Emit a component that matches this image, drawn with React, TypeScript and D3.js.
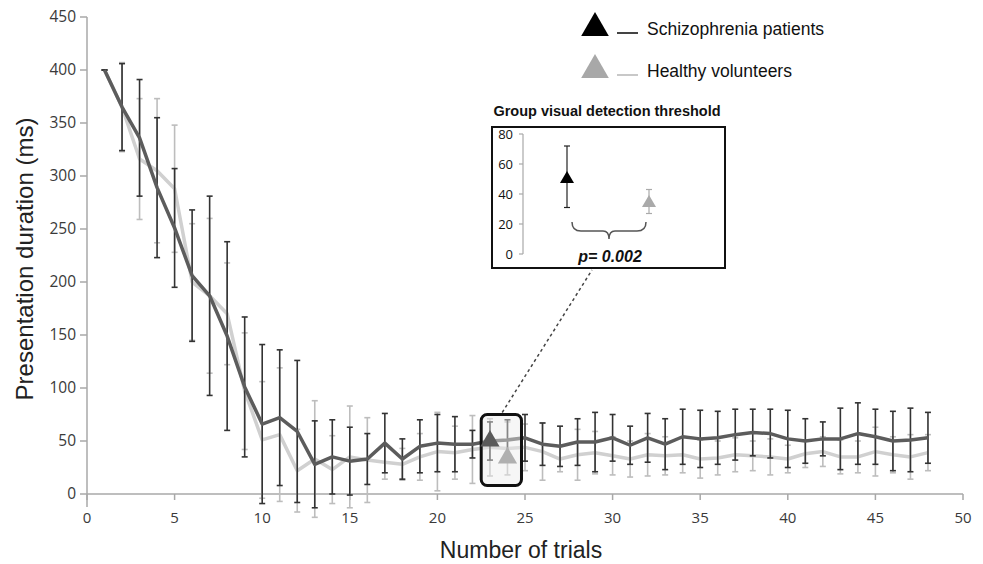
import * as d3 from "d3";

// trial numbers on the x axis
const trials = [
  1, 2, 3, 4, 5, 6, 7, 8, 9, 10, 11, 12, 13, 14, 15, 16, 17, 18, 19, 20, 21, 22, 23, 24,
  25, 26, 27, 28, 29, 30, 31, 32, 33, 34, 35, 36, 37, 38, 39, 40, 41, 42, 43, 44, 45, 46, 47, 48,
];

// schizophrenia patients: mean presentation duration and error (ms)
const patientMean = [
  400, 365, 336, 289, 251, 206, 187, 149, 101, 66, 72, 59, 28, 35, 31, 33, 48, 33, 45, 48, 47, 47, 50, 51,
  53, 47, 45, 49, 49, 53, 46, 53, 47, 54, 52, 53, 56, 58, 57, 52, 50, 52, 52, 57, 54, 50, 51, 53,
];
const patientErr = [
  0, 41, 55, 66, 56, 62, 94, 89, 66, 75, 64, 67, 41, 35, 32, 24, 28, 19, 25, 27, 26, 13, 18, 19,
  22, 20, 19, 22, 28, 22, 18, 23, 24, 26, 27, 25, 24, 22, 23, 27, 21, 16, 29, 29, 26, 28, 30, 24,
];

// healthy volunteers
const healthyMean = [
  400, 365, 316, 305, 288, 200, 187, 170, 97, 51, 56, 22, 33, 23, 35, 32, 30, 28, 35, 40, 39, 42, 44, 43,
  44, 40, 33, 37, 39, 36, 33, 37, 36, 37, 33, 34, 37, 36, 35, 33, 38, 40, 35, 35, 40, 37, 35, 39,
];
const healthyErr = [
  0, 42, 57, 68, 60, 55, 73, 48, 55, 55, 63, 39, 55, 32, 48, 40, 16, 15, 22, 37, 25, 32, 27, 25,
  22, 27, 12, 24, 20, 18, 17, 20, 18, 17, 18, 16, 16, 14, 17, 13, 13, 14, 16, 15, 23, 17, 21, 17,
];

const yTicks = [0, 50, 100, 150, 200, 250, 300, 350, 400, 450];
const xTicks = [0, 5, 10, 15, 20, 25, 30, 35, 40, 45, 50];

// group visual detection threshold (ms)
const groups = ["Schizophrenia patients", "Healthy volunteers"];
const groupTrial = [23, 24];
const groupMean = [50, 34];
const groupLow = [31, 27];
const groupHigh = [72, 43];
const insetTicks = [0, 20, 40, 60, 80];

const DARK_LINE = "#5c5c5c";
const LIGHT_LINE = "#d0d0d0";
const DARK_BAR = "#333";
const LIGHT_BAR = "#bdbdbd";
const AXIS = "#a8a8a8";

const App = () => {
  const width = 983;
  const height = 564;

  const x = d3.scaleLinear().domain([0, 50]).range([87, 963]);
  const y = d3.scaleLinear().domain([0, 450]).range([494, 17]);

  const line = d3
    .line<number>()
    .x((_, i) => x(trials[i]))
    .y((d) => y(d));

  const tri = (size: number) => d3.symbol(d3.symbolTriangle, size)()!;

  const errorBars = (means: number[], errs: number[], color: string, cap: number) =>
    trials.map((t, i) => {
      const cx = x(t);
      const y1 = y(means[i] + errs[i]);
      const y2 = y(means[i] - errs[i]);
      return (
        <g key={t} stroke={color} strokeWidth={1.6}>
          <line x1={cx} x2={cx} y1={y1} y2={y2} />
          <line x1={cx - cap} x2={cx + cap} y1={y1} y2={y1} />
          <line x1={cx - cap} x2={cx + cap} y1={y2} y2={y2} />
        </g>
      );
    });

  // inset
  const iy = d3.scaleLinear().domain([0, 80]).range([254, 134]);
  const ix = d3.scalePoint<string>().domain(groups).range([567, 649]);
  const insetColors = ["#000", "#aaa"];

  const bl = ix(groups[0])! + 5;
  const br = ix(groups[1])! - 3;
  const bm = (bl + br) / 2;
  const bt = 222;
  const bb = 231;
  const brace = `M${bl},${bt} Q${bl},${bb} ${bl + 9},${bb} L${bm - 6},${bb} Q${bm},${bb} ${bm},${bb + 8} Q${bm},${bb} ${bm + 6},${bb} L${br - 9},${bb} Q${br},${bb} ${br},${bt}`;

  // highlight box around the threshold markers
  const boxX0 = x(22.5);
  const boxX1 = x(24.8);
  const boxY0 = y(75);
  const boxY1 = y(8);

  return (
    <svg
      width={width}
      height={height}
      style={{ position: "absolute", left: 0, top: 0, background: "#fff" }}
      fontFamily="'Liberation Sans', Arial, sans-serif"
    >
      {/* axes */}
      <line x1={x(0)} x2={x(0)} y1={y(450)} y2={507} stroke={AXIS} strokeWidth={1.5} />
      {yTicks.map((t) => (
        <g key={t}>
          <line x1={x(0) - 7} x2={x(0)} y1={y(t)} y2={y(t)} stroke={AXIS} strokeWidth={1.5} />
          <text
            x={76}
            y={y(t)}
            dy="0.35em"
            textAnchor="end"
            fontSize={15.5}
            fontFamily="'Open Sans', sans-serif"
            fill="#3a3a3a"
          >
            {t}
          </text>
        </g>
      ))}
      <line x1={x(0)} x2={x(50)} y1={y(0)} y2={y(0)} stroke={AXIS} strokeWidth={1.5} />
      {xTicks.map((t) => (
        <g key={t}>
          <line x1={x(t)} x2={x(t)} y1={y(0)} y2={y(0) + 6} stroke={AXIS} strokeWidth={1.5} />
          <text
            x={x(t)}
            y={523}
            textAnchor="middle"
            fontSize={15}
            fontFamily="'Open Sans', sans-serif"
            fill="#3a3a3a"
          >
            {t}
          </text>
        </g>
      ))}

      <text x={521} y={558} textAnchor="middle" fontSize={23} fill="#222">
        Number of trials
      </text>
      <text
        transform={`translate(33,259) rotate(-90)`}
        textAnchor="middle"
        fontSize={24}
        fill="#222"
      >
        Presentation duration (ms)
      </text>

      {/* series */}
      {errorBars(healthyMean, healthyErr, LIGHT_BAR, 3)}
      <path d={line(healthyMean)!} fill="none" stroke={LIGHT_LINE} strokeWidth={3.5} strokeLinejoin="round" />
      {errorBars(patientMean, patientErr, DARK_BAR, 3)}
      <path d={line(patientMean)!} fill="none" stroke={DARK_LINE} strokeWidth={3.5} strokeLinejoin="round" />

      {/* highlighted threshold markers */}
      <rect
        x={boxX0}
        y={boxY0}
        width={boxX1 - boxX0}
        height={boxY1 - boxY0}
        rx={6}
        fill="rgba(235,235,235,0.45)"
        stroke="#111"
        strokeWidth={3}
      />
      {groups.map((g, i) => (
        <path
          key={g}
          d={tri(160)}
          transform={`translate(${x(groupTrial[i])},${y(groupMean[i])})`}
          fill={i === 0 ? "#5a5a5a" : "#b0b0b0"}
        />
      ))}
      <line x1={x(23.7)} y1={boxY0 - 2} x2={592} y2={270} stroke="#444" strokeWidth={1.5} strokeDasharray="3,3" />

      {/* inset */}
      <text x={607} y={116} textAnchor="middle" fontSize={14.5} fontWeight="bold" fill="#111">
        Group visual detection threshold
      </text>
      <rect x={492} y={127} width={233} height={141} fill="#fff" stroke="#111" strokeWidth={2} />
      <line x1={523} x2={523} y1={iy(80)} y2={iy(0)} stroke={AXIS} strokeWidth={1.2} />
      {insetTicks.map((t) => (
        <g key={t}>
          <line x1={519} x2={523} y1={iy(t)} y2={iy(t)} stroke={AXIS} strokeWidth={1.2} />
          <text
            x={513}
            y={iy(t)}
            dy="0.35em"
            textAnchor="end"
            fontSize={13}
            fontFamily="'Open Sans', sans-serif"
            fill="#111"
          >
            {t}
          </text>
        </g>
      ))}
      {groups.map((g, i) => {
        const cx = ix(g)!;
        return (
          <g key={g}>
            <g stroke={i === 0 ? "#222" : "#aaa"} strokeWidth={1.2}>
              <line x1={cx} x2={cx} y1={iy(groupHigh[i])} y2={iy(groupLow[i])} />
              <line x1={cx - 3} x2={cx + 3} y1={iy(groupHigh[i])} y2={iy(groupHigh[i])} />
              <line x1={cx - 3} x2={cx + 3} y1={iy(groupLow[i])} y2={iy(groupLow[i])} />
            </g>
            <path d={tri(85)} transform={`translate(${cx},${iy(groupMean[i])})`} fill={insetColors[i]} />
          </g>
        );
      })}
      <path d={brace} fill="none" stroke="#555" strokeWidth={1.5} />
      <text x={610} y={262} textAnchor="middle" fontSize={16} fontWeight="bold" fontStyle="italic" fill="#111">
        p= 0.002
      </text>

      {/* legend */}
      {groups.map((g, i) => (
        <g key={g} transform={`translate(0,${i * 42})`}>
          <path d={tri(330)} transform={`translate(595,28)`} fill={i === 0 ? "#000" : "#a8a8a8"} />
          <line x1={617} x2={638} y1={33} y2={33} stroke={i === 0 ? "#444" : "#c8c8c8"} strokeWidth={2} />
          <text x={647} y={35} fontSize={17.5} fill="#111">
            {g}
          </text>
        </g>
      ))}
    </svg>
  );
};

export default App;
